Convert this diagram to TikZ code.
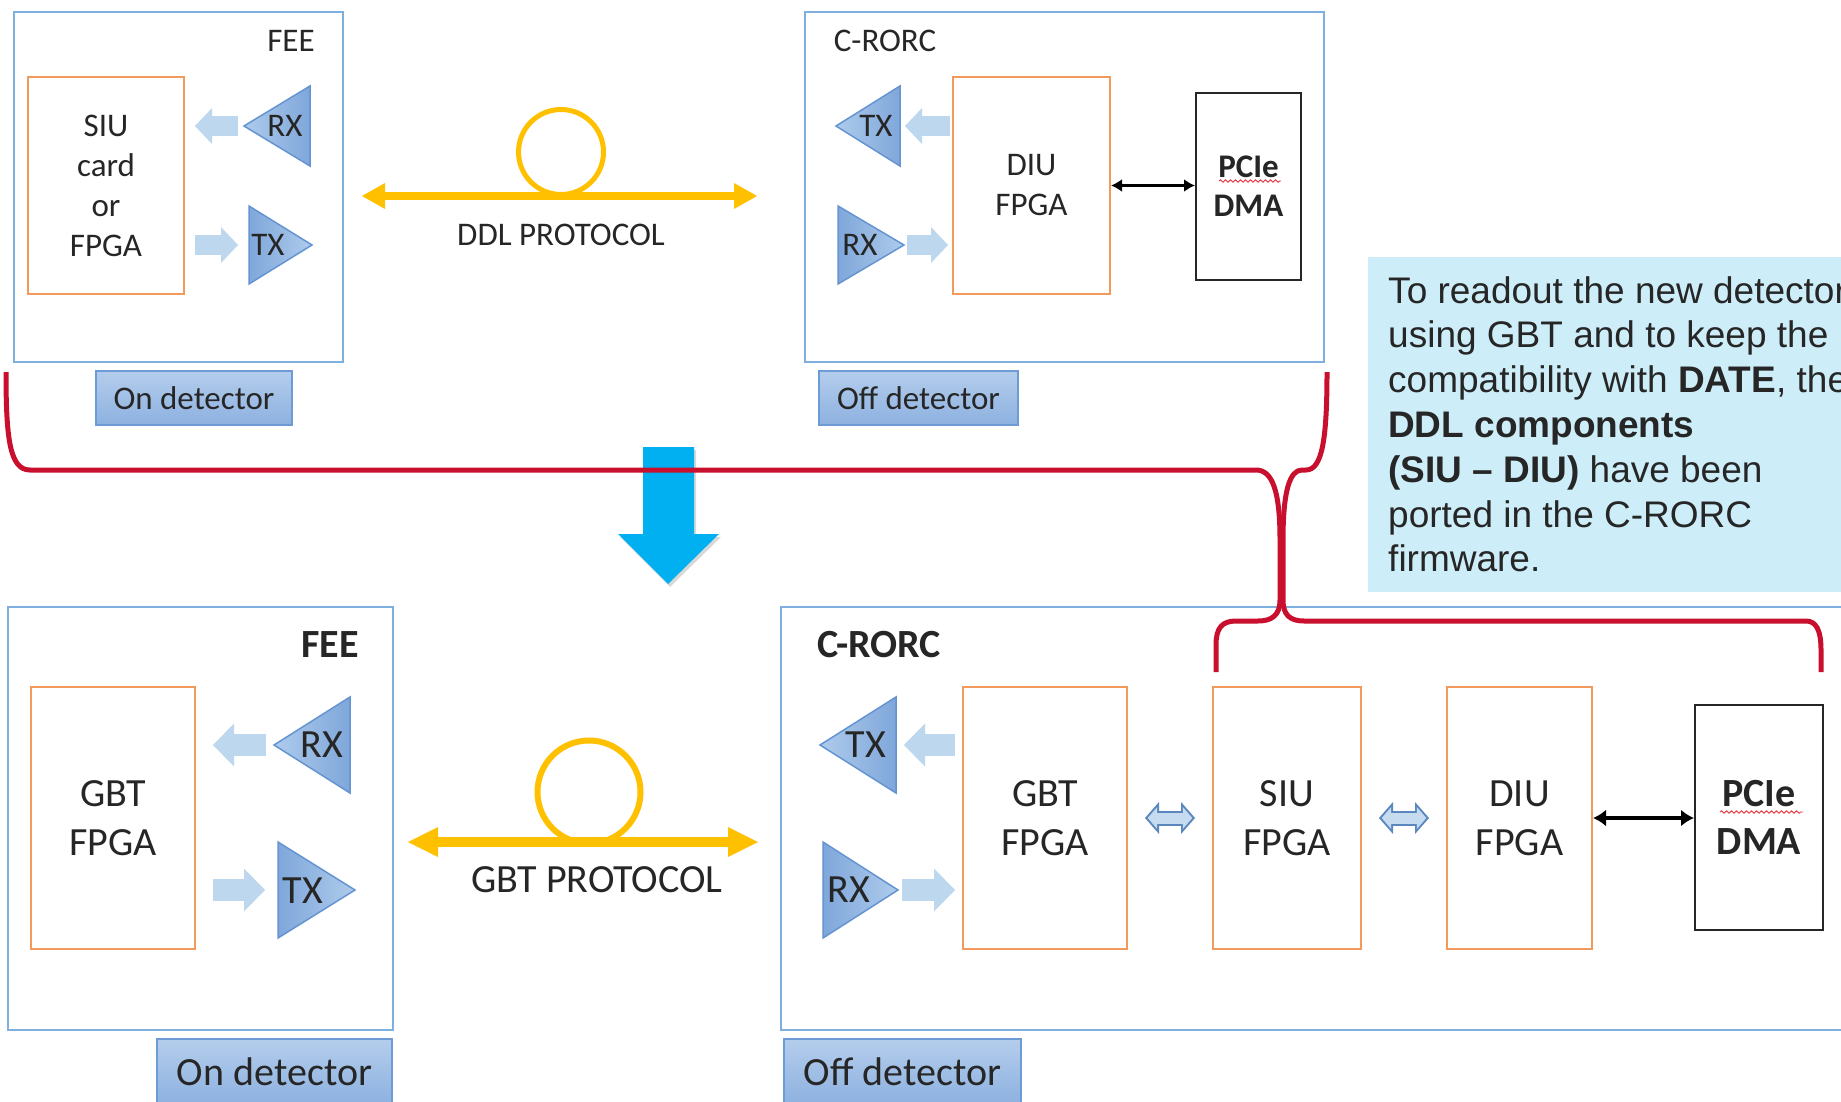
\documentclass[tikz,border=0pt]{standalone}
\usepackage{fontspec}
\setmainfont{Carlito}
\newfontfamily\notefont{Liberation Sans}
\usepackage{tikz}
\usetikzlibrary{arrows.meta,decorations.pathmorphing,shadows}
\definecolor{rdInk}{HTML}{262626}
\definecolor{rdFrame}{HTML}{7FAFDF}
\definecolor{rdOrange}{HTML}{F29A5C}
\definecolor{rdTagTop}{HTML}{B4CDEC}
\definecolor{rdTagBot}{HTML}{8DB1E0}
\definecolor{rdTagLine}{HTML}{6C9BD5}
\definecolor{rdTriLight}{HTML}{AECBEC}
\definecolor{rdTriDark}{HTML}{7FA7DA}
\definecolor{rdTriLine}{HTML}{6494D2}
\definecolor{rdPale}{HTML}{BDD7EE}
\definecolor{rdHollow}{HTML}{5A87BD}
\definecolor{rdHollowFill}{HTML}{C6DAF0}
\definecolor{rdGold}{HTML}{FFC000}
\definecolor{rdRed}{HTML}{C8102E}
\definecolor{rdSky}{HTML}{00B0F0}
\definecolor{rdNote}{HTML}{CDEEF9}
\definecolor{rdSpell}{HTML}{E8303A}
\tikzset{
  rd diagram/.style={x=1pt, y=-1pt, text=rdInk},
  rd small/.style={font=\fontsize{33}{40}\selectfont},
  rd large/.style={font=\fontsize{40}{49}\selectfont},
  rd small bold/.style={font=\fontsize{33}{39}\selectfont\bfseries},
  rd large bold/.style={font=\fontsize{40}{48}\selectfont\bfseries},
  rd frame/.style={draw=rdFrame, line width=2pt, inner sep=0pt},
  rd fpga/.style={draw=rdOrange, line width=2pt, fill=white, inner sep=0pt, align=center},
  rd pcie/.style={draw=rdInk, line width=2pt, fill=white, inner sep=0pt, align=center},
  rd tag/.style={draw=rdTagLine, line width=1.5pt, top color=rdTagTop, bottom color=rdTagBot, inner sep=0pt},
  rd tri left/.style={draw=rdTriLine, line width=1.5pt, left color=rdTriLight, right color=rdTriDark},
  rd tri right/.style={draw=rdTriLine, line width=1.5pt, left color=rdTriDark, right color=rdTriLight},
  rd pale/.style={draw=rdPale, line width=20pt, -{Triangle[width=36pt,length=17pt,line width=0pt]}},
  rd pale big/.style={draw=rdPale, line width=22pt, -{Triangle[width=43pt,length=21pt,line width=0pt]}},
  rd hollow/.style={draw=rdHollow, line width=15pt, shorten <=17pt, shorten >=17pt,
    {Triangle[width=32pt,length=14pt,line width=0pt]}-{Triangle[width=32pt,length=14pt,line width=0pt]}},
  rd hollow core/.style={draw=rdHollowFill, line width=11pt, shorten <=19.7pt, shorten >=19.7pt,
    {Triangle[width=22pt,length=9.5pt,line width=0pt]}-{Triangle[width=22pt,length=9.5pt,line width=0pt]}},
  rd link/.style={draw=black, line width=3pt, {Latex[length=11pt,width=13pt]}-{Latex[length=11pt,width=13pt]}},
  rd link big/.style={draw=black, line width=3.5pt, {Latex[length=13pt,width=17pt]}-{Latex[length=13pt,width=17pt]}},
  rd fiber/.style={draw=rdGold, line width=8pt,
    {Triangle[width=26pt,length=23pt,line width=0pt]}-{Triangle[width=26pt,length=23pt,line width=0pt]}},
  rd fiber big/.style={draw=rdGold, line width=10pt,
    {Triangle[width=30pt,length=30pt,line width=0pt]}-{Triangle[width=30pt,length=30pt,line width=0pt]}},
  rd loop/.style={circle, draw=rdGold, inner sep=0pt},
  rd brace/.style={draw=rdRed, line width=5pt},
  rd squiggle/.style={draw=rdSpell, line width=0.9pt, decorate, decoration={snake, amplitude=1.2pt, segment length=5pt}},
  rd note/.style={fill=rdNote, inner sep=0pt}
}

\begin{document}
\begin{tikzpicture}[rd diagram]
\useasboundingbox (0,0) rectangle (1841,1102);
\clip (0,0) rectangle (1841,1102);
\fill[white] (0,0) rectangle (1841,1102);

% DDL setup (top)
\node[rd frame, minimum width=329pt, minimum height=350pt] (feeA) at (178.5,187) {};
\node[rd small] (feeAname) at (291,41) {FEE};
\node[rd fpga, rd small, minimum width=156pt, minimum height=217pt] (siuA) at (106,185.5) {SIU\\card\\or\\FPGA};
\coordinate (rxA) at (244,126);
\coordinate (txA) at (249,245);
\draw[rd tri left] (rxA) -- ++(66,-40) -- ++(0,80) -- cycle;
\draw[rd tri right] (txA) -- ++(0,-39) -- ++(63,39) -- ++(-63,39) -- cycle;
\node[rd small] (rxAname) at (285,126) {RX};
\node[rd small] (txAname) at (268,245) {TX};
\draw[rd pale, shorten <=6pt, shorten >=10pt] (rxA) -- (rxA -| siuA.east);
\draw[rd pale, shorten <=10pt, shorten >=11pt] (txA -| siuA.east) -- (txA);
\node[rd tag, rd small, minimum width=196pt, minimum height=54pt] (onA) at (194,398) {On detector};

\coordinate (ddlL) at (362,196);
\coordinate (ddlR) at (757,196);
\node[rd loop, line width=5pt, minimum size=85pt] (loopA) at (561,152) {};
\draw[rd fiber] (ddlL) -- (ddlR);
\node[rd small] (ddl) at (561,235) {DDL PROTOCOL};

\node[rd frame, minimum width=519pt, minimum height=350pt] (rorcA) at (1064.5,187) {};
\node[rd small] (rorcAname) at (885,41) {C-RORC};
\node[rd fpga, rd small, minimum width=157pt, minimum height=217pt] (diuA) at (1031.5,185.5) {DIU\\FPGA};
\node[rd pcie, rd small bold, minimum width=105pt, minimum height=187pt] (pcieA) at (1248.5,186.5) {PCIe\\DMA};
\draw[rd squiggle] (1219,181) -- (1281,181);
\coordinate (txB) at (900,126);
\coordinate (rxB) at (904,245);
\draw[rd tri left] (txB) -- ++(0,-40) -- ++(-64,40) -- ++(64,40) -- cycle;
\draw[rd tri right] (rxB) -- ++(-66,-39) -- ++(0,78) -- cycle;
\node[rd small] (txBname) at (876,126) {TX};
\node[rd small] (rxBname) at (860,245) {RX};
\draw[rd pale, shorten <=2pt, shorten >=5pt] (txB -| diuA.west) -- (txB);
\draw[rd pale, shorten <=3pt, shorten >=4pt] (rxB) -- (rxB -| diuA.west);
\draw[rd link] (diuA.east) -- (diuA.east -| pcieA.west);
\node[rd tag, rd small, minimum width=199pt, minimum height=54pt] (offA) at (918.5,398) {Off detector};

% GBT setup (bottom)
\node[rd frame, minimum width=385pt, minimum height=423pt] (feeB) at (200.5,818.5) {};
\node[rd large bold] (feeBname) at (330,645) {FEE};
\node[rd fpga, rd large, minimum width=164pt, minimum height=262pt] (gbtA) at (113,818) {GBT\\FPGA};
\coordinate (rxC) at (274,745);
\coordinate (txC) at (278,890);
\draw[rd tri left] (rxC) -- ++(76,-48) -- ++(0,96) -- cycle;
\draw[rd tri right] (txC) -- ++(0,-48) -- ++(77,48) -- ++(-77,48) -- cycle;
\node[rd large] (rxCname) at (322,745) {RX};
\node[rd large] (txCname) at (303,891) {TX};
\draw[rd pale big, shorten <=8pt, shorten >=17pt] (rxC) -- (rxC -| gbtA.east);
\draw[rd pale big, shorten <=17pt, shorten >=13pt] (txC -| gbtA.east) -- (txC);
\node[rd tag, rd large, minimum width=235pt, minimum height=65pt] (onB) at (274.5,1071.5) {On detector};

\coordinate (gbtL) at (408,842);
\coordinate (gbtR) at (758,842);
\node[rd loop, line width=6pt, minimum size=103pt] (loopB) at (589,792) {};
\draw[rd fiber big] (gbtL) -- (gbtR);
\node[rd large] (gbt) at (597,880) {GBT PROTOCOL};

\node[rd frame, minimum width=1080pt, minimum height=423pt] (rorcB) at (1321,818.5) {};
\node[rd large bold] (rorcBname) at (879,645) {C-RORC};
\node[rd fpga, rd large, minimum width=164pt, minimum height=262pt] (gbtB) at (1045,818) {GBT\\FPGA};
\node[rd fpga, rd large, minimum width=148pt, minimum height=262pt] (siuB) at (1287,818) {SIU\\FPGA};
\node[rd fpga, rd large, minimum width=145pt, minimum height=262pt] (diuB) at (1519.5,818) {DIU\\FPGA};
\node[rd pcie, rd large bold, minimum width=128pt, minimum height=225pt] (pcieB) at (1759,817.5) {PCIe\\DMA};
\draw[rd squiggle] (1720,812) -- (1803,812);
\coordinate (txD) at (896,745);
\coordinate (rxD) at (898,890);
\draw[rd tri left] (txD) -- ++(0,-48) -- ++(-76,48) -- ++(76,48) -- cycle;
\draw[rd tri right] (rxD) -- ++(-75,-48) -- ++(0,96) -- cycle;
\node[rd large] (txDname) at (866,745) {TX};
\node[rd large] (rxDname) at (849,890) {RX};
\draw[rd pale big, shorten <=7pt, shorten >=8pt] (txD -| gbtB.west) -- (txD);
\draw[rd pale big, shorten <=4pt, shorten >=7pt] (rxD) -- (rxD -| gbtB.west);
\draw[rd hollow] (gbtB.east) -- (siuB.west);
\draw[rd hollow core] (gbtB.east) -- (siuB.west);
\draw[rd hollow] (siuB.east) -- (diuB.west);
\draw[rd hollow core] (siuB.east) -- (diuB.west);
\draw[rd link big] (diuB.east) -- (diuB.east -| pcieB.west);
\node[rd tag, rd large, minimum width=237pt, minimum height=65pt] (offB) at (902.5,1071.5) {Off detector};

% note
\node[rd note, anchor=north west, minimum width=520pt, minimum height=335pt] (note) at (1368,257) {};
\node[font=\notefont\fontsize{37}{44.8}\selectfont, align=left, anchor=north west, inner sep=0pt] (noteText) at (1388,276)
  {To readout the new detector\\using GBT and to keep the\\compatibility with \textbf{DATE}, the\\\textbf{DDL components}\\\textbf{(SIU – DIU)} have been\\ported in the C-RORC\\firmware.};

% transition arrow and braces
\fill[rdSky, drop shadow={opacity=0.3, shadow xshift=2pt, shadow yshift=-3pt}]
  (643,447) -- (694,447) -- (694,534) -- (719,534) -- (668,584) -- (618,534) -- (643,534) -- cycle;
\draw[rd brace] (6,372) .. controls (6,440) and (10,470) .. (30,470) -- (1256,470)
  .. controls (1272,470) and (1280,490) .. (1280,540) -- (1280,600)
  .. controls (1280,615) and (1272,621) .. (1258,621) -- (1236,621)
  .. controls (1222,621) and (1216,628) .. (1216,645) -- (1216,672);
\draw[rd brace] (1327,372) .. controls (1327,440) and (1322,470) .. (1306,470) -- (1302,470)
  .. controls (1290,470) and (1283,490) .. (1283,540) -- (1283,600)
  .. controls (1283,615) and (1290,621) .. (1304,621) -- (1806,621)
  .. controls (1816,621) and (1821,630) .. (1821,650) -- (1821,672);
\end{tikzpicture}
\end{document}
